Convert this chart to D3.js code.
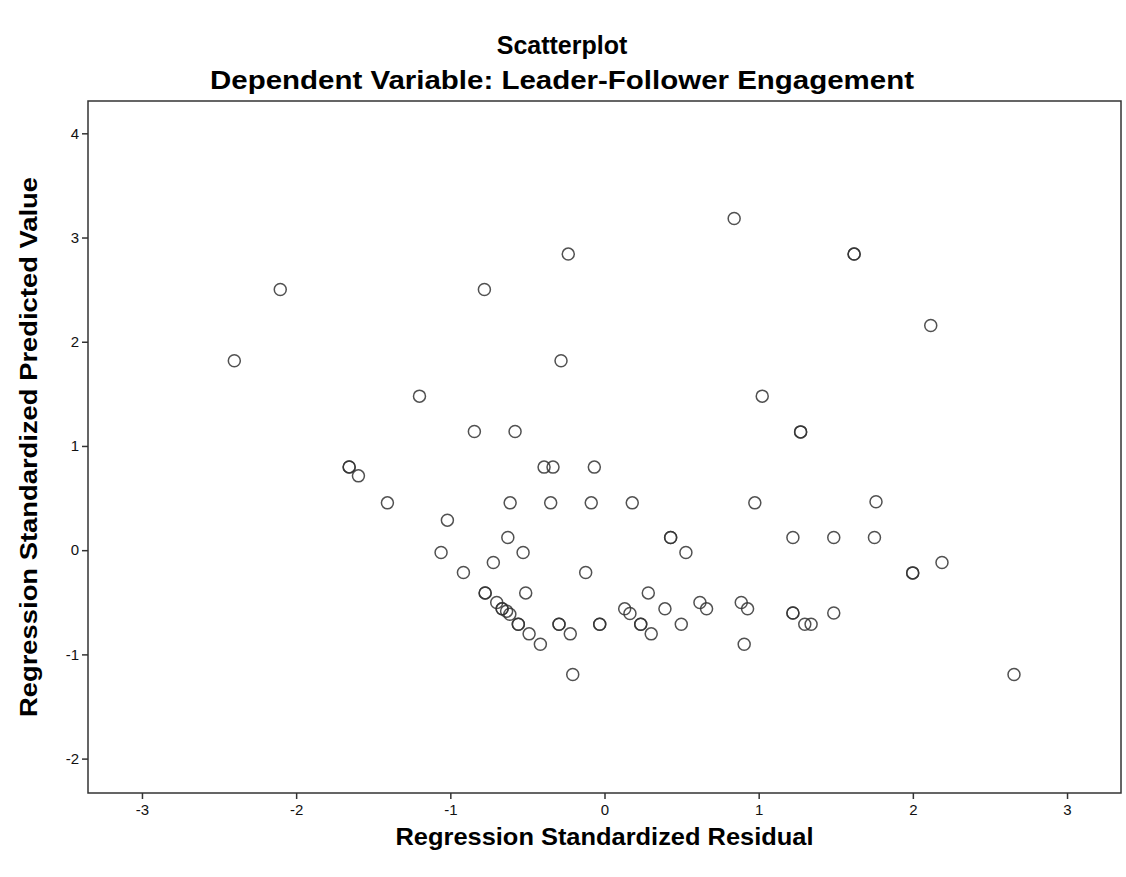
<!DOCTYPE html>
<html>
<head>
<meta charset="utf-8">
<script src="https://cdn.jsdelivr.net/npm/d3@7"></script>
<style>
  body { margin: 0; background: #fff; }
  text { font-family: "Liberation Sans", Arial, sans-serif; }
</style>
</head>
<body>
<div id="chart"></div>
<script>
// regression standardized residual (x) vs standardized predicted value (y)
const residual = [
  0.841, -0.235, 1.619, 1.619, -2.103, -0.779, 2.116, -2.401, -0.282, -1.200,
  1.023, -0.844, -0.580, 1.272, 1.272, -1.656, -1.656, -1.596, -0.392, -0.334,
  -0.066, -1.408, -0.612, -0.349, -0.086, 0.180, 0.975, 1.761, -1.019, -0.627,
  0.429, 0.429, 1.222, 1.487, 1.751, -1.060, -0.528, 0.528, -0.721, 2.189,
  -0.915, -0.122, 1.999, 1.999, -0.774, -0.774, -0.511, 0.284, -0.699, 0.619,
  0.887, -0.664, -0.664, -0.635, -0.614, 0.131, 0.392, 0.662, 0.928, 0.165,
  1.222, 1.222, 1.487, -0.559, -0.559, -0.295, -0.295, -0.031, -0.031, 0.235,
  0.235, 0.498, 1.299, 1.340, -0.489, -0.222, 0.303, -0.416, 0.906, -0.206,
  2.656
];
const predicted = [
  3.183, 2.841, 2.841, 2.841, 2.502, 2.502, 2.156, 1.817, 1.817, 1.478,
  1.478, 1.139, 1.139, 1.135, 1.135, 0.799, 0.799, 0.713, 0.797, 0.797,
  0.797, 0.454, 0.454, 0.454, 0.454, 0.454, 0.454, 0.464, 0.288, 0.122,
  0.122, 0.122, 0.122, 0.122, 0.122, -0.022, -0.022, -0.022, -0.118, -0.118,
  -0.214, -0.214, -0.218, -0.218, -0.410, -0.410, -0.410, -0.410, -0.502, -0.502,
  -0.502, -0.563, -0.563, -0.585, -0.614, -0.563, -0.563, -0.563, -0.563, -0.608,
  -0.602, -0.602, -0.602, -0.710, -0.710, -0.710, -0.710, -0.710, -0.710, -0.710,
  -0.710, -0.710, -0.710, -0.710, -0.803, -0.803, -0.803, -0.902, -0.902, -1.193,
  -1.193
];
const xTicks = [-3, -2, -1, 0, 1, 2, 3];
const yTicks = [-2, -1, 0, 1, 2, 3, 4];

const width = 1126;
const height = 877;
const margin = { top: 101, right: 5, bottom: 84, left: 88 };
const plotW = width - margin.left - margin.right;
const plotH = height - margin.top - margin.bottom;

const points = residual.map((r, i) => ({ x: r, y: predicted[i] }));

const x = d3.scaleLinear().domain([-3.35, 3.35]).range([0, plotW]);
const y = d3.scaleLinear().domain([-2.33, 4.31]).range([plotH, 0]);

const svg = d3.select("#chart").append("svg")
    .attr("width", width)
    .attr("height", height);

svg.append("text")
    .attr("x", 562).attr("y", 54)
    .attr("text-anchor", "middle")
    .attr("font-size", 25).attr("font-weight", "bold")
    .text("Scatterplot");

svg.append("text")
    .attr("x", 562).attr("y", 89)
    .attr("text-anchor", "middle")
    .attr("font-size", 25).attr("font-weight", "bold")
    .attr("textLength", 704).attr("lengthAdjust", "spacingAndGlyphs")
    .text("Dependent Variable: Leader-Follower Engagement");

const g = svg.append("g")
    .attr("transform", `translate(${margin.left},${margin.top})`);

const xAxis = g.append("g")
    .attr("transform", `translate(0,${plotH})`)
    .call(d3.axisBottom(x).tickValues(xTicks).tickSize(6).tickPadding(5).tickFormat(d => String(d)));

const yAxis = g.append("g")
    .call(d3.axisLeft(y).tickValues(yTicks).tickSize(6).tickPadding(3).tickFormat(d => String(d)));

[xAxis, yAxis].forEach(ax => {
    ax.select(".domain").remove();
    ax.selectAll("line").attr("stroke", "#333").attr("stroke-width", 1.5);
    ax.selectAll("text")
        .attr("font-family", "'Liberation Sans', Arial, sans-serif")
        .attr("font-size", 15)
        .attr("fill", "#111");
});

g.append("rect")
    .attr("width", plotW)
    .attr("height", plotH)
    .attr("fill", "none")
    .attr("stroke", "#333")
    .attr("stroke-width", 1.5);

g.selectAll("circle")
    .data(points)
    .enter()
    .append("circle")
    .attr("cx", d => x(d.x))
    .attr("cy", d => y(d.y))
    .attr("r", 6)
    .attr("fill", "none")
    .attr("stroke", "#333")
    .attr("stroke-opacity", 0.85)
    .attr("stroke-width", 1.5);

svg.append("text")
    .attr("x", margin.left + plotW / 2)
    .attr("y", 845)
    .attr("text-anchor", "middle")
    .attr("font-size", 24).attr("font-weight", "bold")
    .attr("textLength", 418).attr("lengthAdjust", "spacingAndGlyphs")
    .text("Regression Standardized Residual");

svg.append("text")
    .attr("transform", `translate(37,${margin.top + plotH / 2}) rotate(-90)`)
    .attr("text-anchor", "middle")
    .attr("font-size", 24).attr("font-weight", "bold")
    .attr("textLength", 540).attr("lengthAdjust", "spacingAndGlyphs")
    .text("Regression Standardized Predicted Value");
</script>
</body>
</html>
